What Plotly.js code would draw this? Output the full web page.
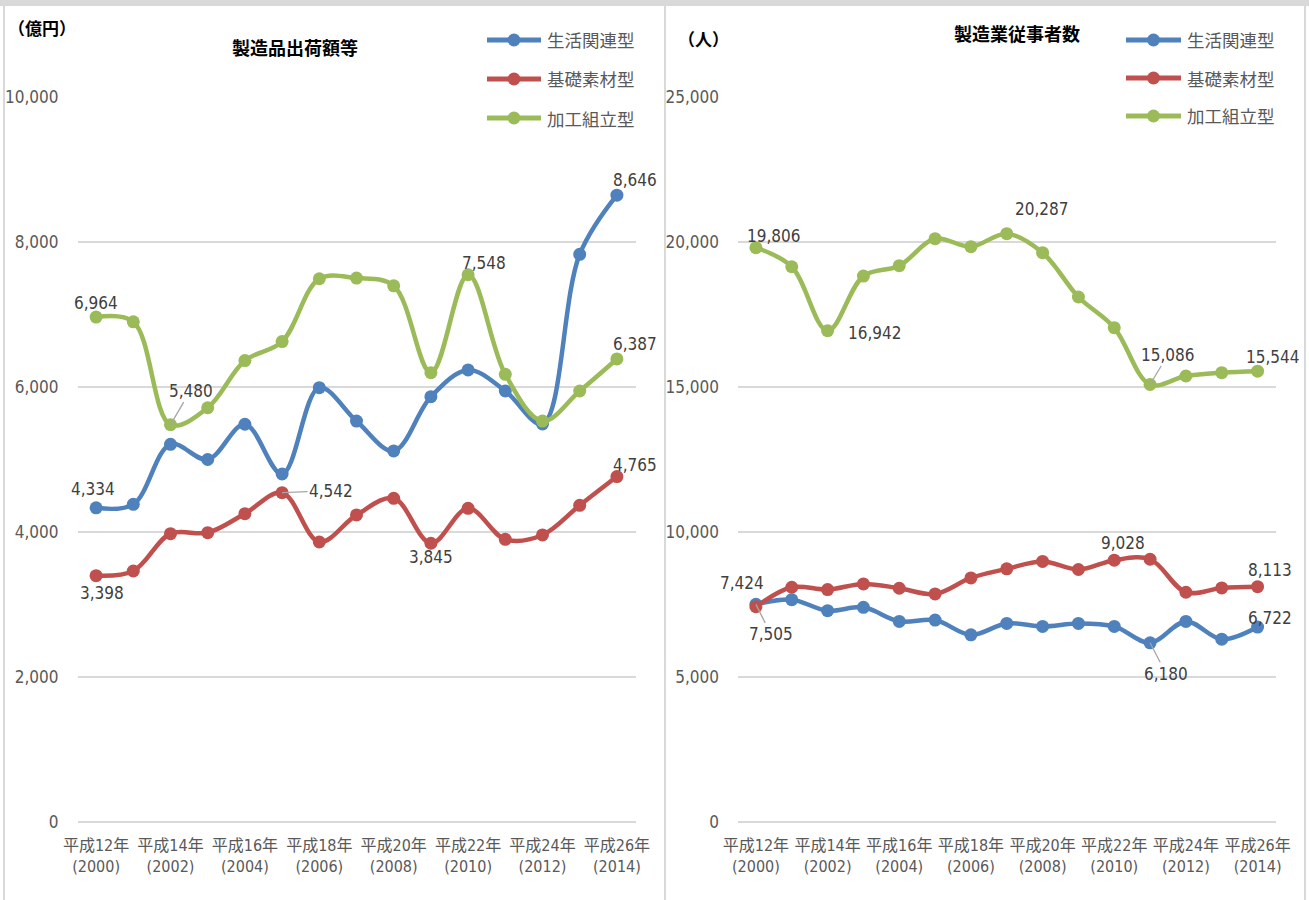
<!DOCTYPE html>
<html>
<head>
<meta charset="utf-8">
<script src="https://cdn.plot.ly/plotly-3.0.1.min.js"></script>
<style>html,body{margin:0;padding:0;background:#fff;}#chart{width:1309px;height:900px;}</style>
</head>
<body>
<div id="chart"></div>
<script>
// ---- data ----
const years = [2000,2001,2002,2003,2004,2005,2006,2007,2008,2009,2010,2011,2012,2013,2014];
const tickYears = [2000,2002,2004,2006,2008,2010,2012,2014];
const tickLabels = ['平成12年<br>(2000)','平成14年<br>(2002)','平成16年<br>(2004)','平成18年<br>(2006)','平成20年<br>(2008)','平成22年<br>(2010)','平成24年<br>(2012)','平成26年<br>(2014)'];
const seriesNames = ['生活関連型','基礎素材型','加工組立型'];

// 製造品出荷額等 (億円)
const shipLife     = [4334,4382,5210,5000,5486,4800,5991,5530,5118,5866,6235,5945,5490,7830,8646];
const shipBasic    = [3398,3462,3977,3991,4253,4542,3862,4235,4465,3845,4327,3899,3959,4368,4765];
const shipAssembly = [6964,6899,5480,5714,6364,6627,7493,7502,7396,6198,7548,6175,5530,5945,6387];

// 製造業従事者数 (人)
const empLife      = [7505,7667,7286,7402,6917,6963,6455,6848,6744,6848,6744,6180,6917,6305,6722];
const empBasic     = [7424,8095,8014,8210,8060,7864,8418,8730,8984,8707,9028,9060,7922,8072,8113];
const empAssembly  = [19806,19147,16942,18825,19182,20115,19839,20287,19631,18103,17046,15086,15379,15494,15544];

const leftTicks  = [0,2000,4000,6000,8000,10000];
const rightTicks = [0,5000,10000,15000,20000,25000];

// ---- style ----
const W = 1309, H = 900;
const colors = ['#4f81bd','#c0504d','#9bbb59'];
const NARROW = "'Liberation Sans Narrow','DejaVu Sans Condensed','Noto Sans CJK JP',sans-serif";
const CJK = "'Noto Sans CJK JP',sans-serif";
const px = v => v / W;
const py = v => 1 - v / H;

const leftSeries  = [shipLife, shipBasic, shipAssembly];
const rightSeries = [empLife, empBasic, empAssembly];

const traces = [];
function addTraces(seriesArr, xa, ya) {
  seriesArr.forEach((s, i) => {
    traces.push({
      type: 'scatter', mode: 'lines+markers', x: years, y: s,
      xaxis: xa, yaxis: ya, name: seriesNames[i], showlegend: false,
      line: {color: colors[i], width: 4.5, shape: 'spline', smoothing: 1},
      marker: {color: colors[i], size: 13},
      hoverinfo: 'skip'
    });
  });
}
addTraces(leftSeries, 'x', 'y');
addTraces(rightSeries, 'x2', 'y2');

// data labels: [chart, seriesIndex, yearIndex, dx, dy, leader]
const labelSpecs = [
  ['L',2,0,0,-14,false], ['L',2,2,20,-34,true], ['L',2,10,16,-12,false], ['L',2,14,18,-15,false],
  ['L',0,0,-3,-19,false], ['L',0,14,18,-15,false],
  ['L',1,0,6,17,false], ['L',1,5,49,-2,true], ['L',1,9,0,14,false], ['L',1,14,18,-12,false],
  ['R',2,0,18,-12,false], ['R',2,2,47,2,false], ['R',2,7,35,-25,false], ['R',2,11,18,-30,true], ['R',2,14,15,-14,false],
  ['R',1,0,-14,-24,false], ['R',1,10,9,-17,false], ['R',1,14,12,-17,false],
  ['R',0,0,15,30,true], ['R',0,11,16,31,true], ['R',0,14,12,-9,false]
];
const annotations = [];
labelSpecs.forEach(([c, si, yi, dx, dy, leader]) => {
  const arr = c === 'L' ? leftSeries[si] : rightSeries[si];
  const v = arr[yi];
  const a = {
    x: years[yi], y: v, xref: c === 'L' ? 'x' : 'x2', yref: c === 'L' ? 'y' : 'y2',
    text: v.toLocaleString('en-US'),
    font: {family: NARROW, size: 17, color: '#404040'}
  };
  if (leader) {
    Object.assign(a, {showarrow: true, ax: dx, ay: dy, arrowhead: 0, arrowwidth: 1.3, arrowcolor: '#a6a6a6', standoff: 0});
  } else {
    Object.assign(a, {showarrow: false, xshift: dx, yshift: -dy});
  }
  annotations.push(a);
});

// titles & units
annotations.push({xref:'paper', yref:'paper', x: px(295), y: py(47), text: '製造品出荷額等', showarrow: false,
  font: {family: CJK, size: 18, color: '#000', weight: 700}, xanchor: 'center', yanchor: 'middle'});
annotations.push({xref:'paper', yref:'paper', x: px(1017), y: py(33), text: '製造業従事者数', showarrow: false,
  font: {family: CJK, size: 18, color: '#000', weight: 700}, xanchor: 'center', yanchor: 'middle'});
annotations.push({xref:'paper', yref:'paper', x: px(6), y: py(27), text: '（億円）', showarrow: false,
  font: {family: CJK, size: 17, color: '#000', weight: 700}, xanchor: 'left', yanchor: 'middle'});
annotations.push({xref:'paper', yref:'paper', x: px(676), y: py(38), text: '（人）', showarrow: false,
  font: {family: CJK, size: 17, color: '#000', weight: 700}, xanchor: 'left', yanchor: 'middle'});

// manual legends
const shapes = [];
function addLegend(x0, x1, ys) {
  seriesNames.forEach((n, i) => {
    const yy = ys[i];
    shapes.push({type:'line', xref:'paper', yref:'paper', x0: px(x0), x1: px(x1), y0: py(yy), y1: py(yy),
      line: {color: colors[i], width: 5}});
    shapes.push({type:'circle', xref:'paper', yref:'paper', xsizemode:'pixel', ysizemode:'pixel',
      xanchor: px((x0 + x1) / 2), yanchor: py(yy), x0: -6.5, x1: 6.5, y0: -6.5, y1: 6.5,
      fillcolor: colors[i], line: {width: 0}});
    annotations.push({xref:'paper', yref:'paper', x: px(x1 + 4), y: py(yy), text: n, showarrow: false,
      xanchor: 'left', yanchor: 'middle', font: {family: CJK, size: 17.5, color: '#595959'}});
  });
}
addLegend(487, 541, [40, 79, 118]);
addLegend(1126, 1181, [40, 78, 116]);

// chart-area borders
shapes.push({type:'rect', xref:'paper', yref:'paper', x0: 0, x1: 1, y0: py(6), y1: 1, fillcolor:'#d9d9d9', line:{width:0}, layer:'below'});
[4, 665, 1305].forEach(xp => shapes.push({type:'line', xref:'paper', yref:'paper', x0: px(xp), x1: px(xp), y0: 0, y1: py(5),
  line: {color: '#d9d9d9', width: 2}, layer: 'below'}));

const xCommon = {
  range: [1999.5, 2014.5], tickmode: 'array', tickvals: tickYears, ticktext: tickLabels,
  showgrid: false, zeroline: false, showline: false, ticks: '', ticklabelstandoff: 12, tickangle: 0,
  tickfont: {family: NARROW, size: 16, color: '#595959'}, fixedrange: true
};
const yCommon = {
  tickmode: 'array', showgrid: true, gridcolor: '#d9d9d9', gridwidth: 1.6,
  zeroline: true, zerolinecolor: '#d9d9d9', zerolinewidth: 1.6, showline: false, ticks: '',
  ticklabelstandoff: 18, tickformat: ',d',
  tickfont: {family: NARROW, size: 17, color: '#595959'}, fixedrange: true
};
const yTop = py(97), yBot = py(822);

const layout = {
  width: W, height: H, margin: {l: 0, r: 0, t: 0, b: 0},
  paper_bgcolor: '#fff', plot_bgcolor: 'rgba(0,0,0,0)', showlegend: false,
  xaxis: Object.assign({}, xCommon, {domain: [px(77.5), px(635.5)], anchor: 'y'}),
  yaxis: Object.assign({}, yCommon, {domain: [yBot, yTop], range: [0, 10000], tickvals: leftTicks, anchor: 'x'}),
  xaxis2: Object.assign({}, xCommon, {domain: [px(738), px(1275.5)], anchor: 'y2'}),
  yaxis2: Object.assign({}, yCommon, {domain: [yBot, yTop], range: [0, 25000], tickvals: rightTicks, anchor: 'x2'}),
  annotations: annotations, shapes: shapes
};

Plotly.newPlot('chart', traces, layout, {displayModeBar: false, staticPlot: true});
</script>
</body>
</html>
